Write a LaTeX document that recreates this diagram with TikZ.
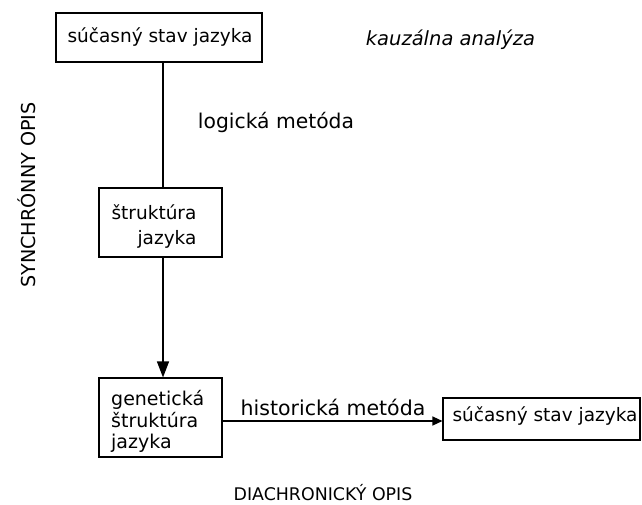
\documentclass[tikz,border=0pt]{standalone}
\usepackage{fontspec}
\setmainfont{DejaVu Sans}
\usetikzlibrary{arrows.meta}
\begin{document}
\begin{tikzpicture}[x=1pt,y=-1pt,
  box/.style={draw,line width=1.1pt,minimum width=#1,inner sep=0pt},
  txt/.style={inner sep=0pt,font=\fontsize{18.5}{24}\selectfont},
  conn/.style={line width=1.3pt},
  bigtip/.style={-{Triangle[length=16pt,width=12pt]}},
  smalltip/.style={-{Triangle[length=10pt,width=9pt]}}]
\useasboundingbox (0,0) rectangle (642,505);
% boxes
\node[box=206pt,minimum height=49pt] (b1) at (159,37.5) {};
\node[txt] (t1) at (160,37) {súčasný stav jazyka};
\node[box=123pt,minimum height=69pt] (b2) at (160.5,222.5) {};
\node[txt,align=right,font=\fontsize{18.5}{25}\selectfont] (t2) at (154,227) {štruktúra\\jazyka};
\node[box=123pt,minimum height=79pt] (b3) at (160.5,417.5) {};
\node[txt,align=left,anchor=west,font=\fontsize{19}{21.5}\selectfont] (t3) at (111,421.5) {genetická\\štruktúra\\jazyka};
\node[box=197pt,minimum height=42pt] (b4) at (541.5,419) {};
\node[txt,font=\fontsize{18.5}{24}\selectfont] (t4) at (545,416) {súčasný stav jazyka};
% free labels
\node[txt,font=\fontsize{19.5}{24}\selectfont\itshape] (kz) at (450.5,40) {kauzálna analýza};
\node[txt,font=\fontsize{20.3}{24}\selectfont] (lm) at (276,122) {logická metóda};
\node[txt,font=\fontsize{20.5}{24}\selectfont] (hm) at (333,407) {historická metóda};
\node[txt,font=\fontsize{19.2}{24}\selectfont,rotate=90] (so) at (27,195) {SYNCHRÓNNY OPIS};
\node[txt,font=\fontsize{17.4}{24}\selectfont] (dop) at (323,493) {DIACHRONICKÝ OPIS};
% connectors
\coordinate (vx) at (163,0);
\coordinate (hy) at (0,421);
\draw[conn] (b1.south -| vx) -- (b2.north -| vx);
\draw[conn,bigtip] (b2.south -| vx) -- (b3.north -| vx);
\draw[conn,smalltip] (b3.east |- hy) -- (b4.west |- hy);
\end{tikzpicture}
\end{document}
